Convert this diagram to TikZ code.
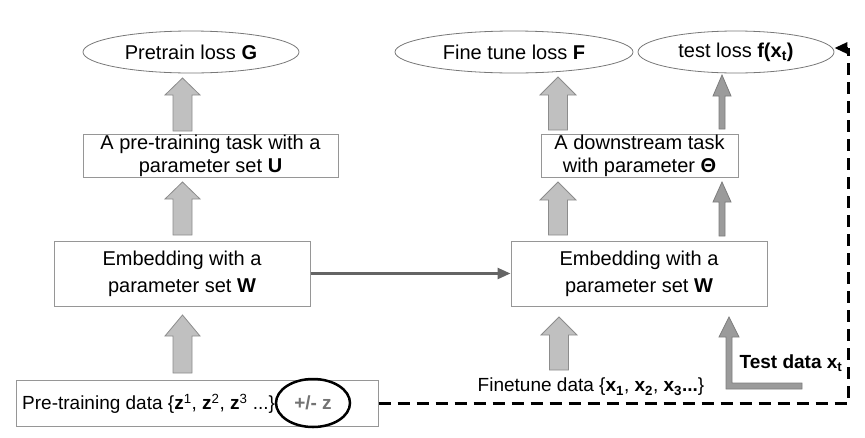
\documentclass[tikz,border=0pt]{standalone}
\usepackage{fontspec}
\setmainfont{Liberation Sans}
\usetikzlibrary{shapes.geometric,arrows.meta,calc}
\definecolor{boxline}{RGB}{150,150,150}
\definecolor{ellline}{RGB}{120,120,120}
\definecolor{fatfill}{RGB}{192,192,192}
\definecolor{fatline}{RGB}{140,140,140}
\definecolor{thinfill}{RGB}{155,155,155}
\definecolor{thinline}{RGB}{125,125,125}
\definecolor{linkgray}{RGB}{100,100,100}
\definecolor{pmgray}{RGB}{115,115,115}
\tikzset{
  lossell/.style={draw=ellline, line width=0.8pt, ellipse, minimum height=42pt, inner sep=0pt,
    font=\fontsize{20}{23}\selectfont},
  rectbox/.style={draw=boxline, line width=1pt, rectangle, inner sep=0pt, align=center,
    font=\fontsize{20}{23}\selectfont},
  fatarrow/.style={fill=fatfill, draw=fatline, line width=0.8pt, line join=miter},
  thinarrow/.style={fill=thinfill, draw=thinline, line width=0.8pt, line join=miter},
  dashlink/.style={line width=3pt, dash pattern=on 12pt off 7pt},
  datatext/.style={inner sep=0pt, font=\fontsize{19}{22}\selectfont}
}
% #1 style, #2 bottom coordinate, #3 tip coordinate, #4 shaft half, #5 head half, #6 head length
\newcommand\blockarrow[6]{%
  \draw[#1] let \p1=(#2), \p2=(#3) in
    (\x1-#4,\y1) -- (\x1-#4,\y2-#6) -- (\x1-#5,\y2-#6) -- (\x2,\y2)
    -- (\x1+#5,\y2-#6) -- (\x1+#4,\y2-#6) -- (\x1+#4,\y1) -- cycle;}
\begin{document}
\begin{tikzpicture}[x=1pt,y=-1pt]
\useasboundingbox (0,0) rectangle (865,437);
% losses
\node[lossell, minimum width=216pt] (G) at (191,52) {Pretrain loss \textbf{G}};
\node[lossell, minimum width=238pt] (F) at (514,52) {Fine tune loss \textbf{F}};
\node[lossell, minimum width=196pt] (test) at (736,52) {test loss \textbf{f(x\textsubscript{t})}};
% task boxes
\node[rectbox, minimum width=255pt, minimum height=43pt] (taskU) at (210.5,155.5)
  {A pre-training task with a\\parameter set \textbf{U}};
\node[rectbox, minimum width=197pt, minimum height=43pt] (taskT) at (639.5,155.5)
  {A downstream task\\with parameter \textbf{Θ}};
% embeddings
\node[rectbox, minimum width=256pt, minimum height=65pt, font=\fontsize{20}{27}\selectfont] (embL) at (182,273.5)
  {Embedding with a\\parameter set \textbf{W}};
\node[rectbox, minimum width=256pt, minimum height=65pt, font=\fontsize{20}{27}\selectfont] (embR) at (639,273.5)
  {Embedding with a\\parameter set \textbf{W}};
% data
\node[rectbox, minimum width=362pt, minimum height=46pt] (data) at (197,403) {};
\node[datatext, anchor=west] (ptxt) at (22,404)
  {Pre-training data \{\textbf{z}\textsuperscript{1}, \textbf{z}\textsuperscript{2}, \textbf{z}\textsuperscript{3} ...\}};
\node[draw=black, line width=2.5pt, ellipse, minimum width=74pt, minimum height=48pt, inner sep=0pt,
  text=pmgray, font=\fontsize{19}{22}\selectfont\bfseries] (pm) at (313,403) {+/- z};
\node[datatext] (ftxt) at (591,387)
  {Finetune data \{\textbf{x\textsubscript{1}}, \textbf{x\textsubscript{2}}, \textbf{x\textsubscript{3}...}\}};
\node[datatext, font=\fontsize{19}{22}\selectfont\bfseries] (ttxt) at (791,363) {Test data x\textsubscript{t}};
% arrow end points
\coordinate (a1b) at (182.5,131); \coordinate (a1t) at (182.5,78);
\coordinate (a2b) at (182.5,235); \coordinate (a2t) at (182.5,182);
\coordinate (a3b) at (182.5,373); \coordinate (a3t) at (182.5,315);
\coordinate (a4b) at (558,130);   \coordinate (a4t) at (558,77);
\coordinate (a5b) at (558,235);   \coordinate (a5t) at (558,182);
\coordinate (a6b) at (559,370);   \coordinate (a6t) at (559,317);
\coordinate (t1b) at (722,129);   \coordinate (t1t) at (722,75);
\coordinate (t2b) at (722,236);   \coordinate (t2t) at (722,182);
% fat arrows
\blockarrow{fatarrow}{a1b}{a1t}{9.5pt}{17.5pt}{17pt}
\blockarrow{fatarrow}{a2b}{a2t}{9.5pt}{17.5pt}{17pt}
\blockarrow{fatarrow}{a3b}{a3t}{9.5pt}{17.5pt}{21pt}
\blockarrow{fatarrow}{a4b}{a4t}{9.5pt}{18pt}{18pt}
\blockarrow{fatarrow}{a5b}{a5t}{9.5pt}{18pt}{18pt}
\blockarrow{fatarrow}{a6b}{a6t}{9.5pt}{18pt}{18pt}
% thin arrows
\blockarrow{thinarrow}{t1b}{t1t}{3pt}{9pt}{21pt}
\blockarrow{thinarrow}{t2b}{t2t}{3pt}{9pt}{20pt}
% L-shaped test data arrow
\draw[thinarrow] (802,383) -- (732,383) -- (732,337) -- (739,337) -- (729,317)
  -- (719,337) -- (726,337) -- (726,389) -- (802,389) -- cycle;
% embedding transfer
\draw[-{Triangle[length=13pt,width=11pt]}, line width=2.5pt, draw=linkgray] (embL.east) -- (embR.west);
% dashed feedback
\coordinate (dc) at (848,403);
\draw[dashlink] (data.east) -- (dc) -- ([yshift=4pt]dc |- test.east);
\draw[dashlink, -{Triangle[length=13pt,width=11pt]}] ([yshift=4pt]dc |- test.east) -- ([yshift=4pt]test.east);
\end{tikzpicture}
\end{document}
